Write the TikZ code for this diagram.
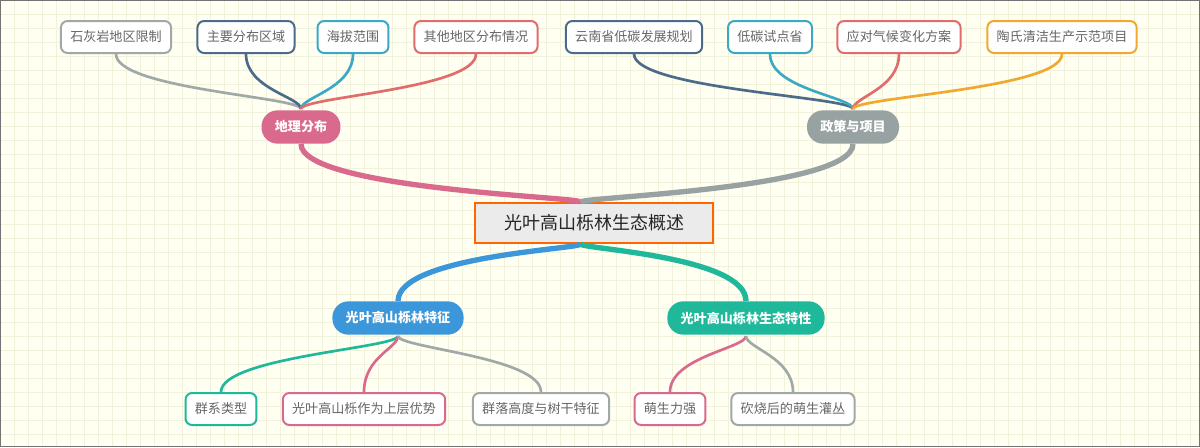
\documentclass[tikz,border=0pt]{standalone}
\usepackage{fontspec}
\setmainfont{Noto Sans CJK SC}
\begin{document}
\begin{tikzpicture}[x=0.75pt,y=-0.75pt,
  leaf/.style={draw=#1,line width=1.5pt,rounded corners=5pt,fill=white,text=black!60,font=\fontsize{9.8}{11}\selectfont,minimum height=24pt,inner xsep=7pt},
  mid/.style={fill=#1,rounded corners=12pt,text=white,font=\fontsize{9.8}{11}\selectfont\bfseries,minimum height=25pt,inner xsep=10pt},
  lnk/.style={draw=#1,line width=2pt},
  big/.style={draw=#1,line width=4pt}]
\definecolor{cgray}{HTML}{A0A8A8}\definecolor{cdark}{HTML}{4A6B8A}
\definecolor{cteal}{HTML}{3BA8C4}\definecolor{cred}{HTML}{E06C6C}
\definecolor{corange}{HTML}{F0A830}\definecolor{cpink}{HTML}{D9698D}
\definecolor{cgray2}{HTML}{98A2A2}\definecolor{cblue}{HTML}{3C97DA}
\definecolor{cgreen}{HTML}{1FB89A}\definecolor{cbg}{HTML}{FFFFF2}
\definecolor{cgrid}{HTML}{F2F2DC}
\useasboundingbox (0,0) rectangle (1200,447);
\fill[cbg] (0,0) rectangle (1200,447);
\foreach \i in {0,14,...,1200} \draw[cgrid,line width=0.6pt] (\i,0) -- (\i,447);
\foreach \j in {0,14,...,447} \draw[cgrid,line width=0.6pt] (0,\j) -- (1200,\j);
\draw[black!55,line width=1pt] (0.5,0.5) rectangle (1199.5,446.5);
% nodes
\node[draw=cgreen!0!orange!80!red,fill=black!8,line width=1.5pt,minimum width=178pt,minimum height=30pt,font=\fontsize{13.5}{15}\selectfont,text=black!85] (c) at (594,223) {光叶高山栎林生态概述};
\node[mid=cpink] (g) at (301,127) {地理分布};
\node[mid=cgray2] (p) at (853,127) {政策与项目};
\node[mid=cblue] (f) at (398,318) {光叶高山栎林特征};
\node[mid=cgreen] (e) at (746,318) {光叶高山栎林生态特性};
\node[leaf=cgray] (t1) at (116,37) {石灰岩地区限制};
\node[leaf=cdark] (t2) at (246,37) {主要分布区域};
\node[leaf=cteal] (t3) at (353,37) {海拔范围};
\node[leaf=cred] (t4) at (476,37) {其他地区分布情况};
\node[leaf=cdark] (t5) at (634,37) {云南省低碳发展规划};
\node[leaf=cteal] (t6) at (770,37) {低碳试点省};
\node[leaf=cred] (t7) at (899,37) {应对气候变化方案};
\node[leaf=corange] (t8) at (1062,37) {陶氏清洁生产示范项目};
\node[leaf=cgreen] (b1) at (221,409) {群系类型};
\node[leaf=cpink] (b2) at (364,409) {光叶高山栎作为上层优势};
\node[leaf=cgray] (b3) at (541,409) {群落高度与树干特征};
\node[leaf=cpink] (b4) at (670,409) {萌生力强};
\node[leaf=cgray] (b5) at (793,409) {砍烧后的萌生灌丛};
\coordinate (gt) at (301,109);
\coordinate (pt) at (853,109);
\coordinate (ft) at (398,336);
\coordinate (et) at (746,336);
% top links
\foreach \n/\c/\t in {t1/cgray/gt,t2/cdark/gt,t3/cteal/gt,t4/cred/gt,t5/cdark/pt,t6/cteal/pt,t7/cred/pt,t8/corange/pt}
  \draw[lnk=\c] (\n.south) .. controls +(0,35) and +(0,-12) .. (\t);
\foreach \n/\c/\t in {b1/cgreen/ft,b2/cpink/ft,b3/cgray/ft,b4/cpink/et,b5/cgray/et}
  \draw[lnk=\c] (\n.north) .. controls +(0,-35) and +(0,12) .. (\t);
% main links
\draw[big=cpink] (g.south) .. controls +(0,45) and +(0,-5) .. ([xshift=-10pt]c.north);
\draw[big=cgray2] (p.south) .. controls +(0,45) and +(0,-5) .. ([xshift=-10pt]c.north);
\draw[big=cblue] ([xshift=-10pt]c.south) .. controls +(0,5) and +(0,-45) .. (f.north);
\draw[big=cgreen] ([xshift=-10pt]c.south) .. controls +(0,5) and +(0,-45) .. (e.north);
\end{tikzpicture}
\end{document}
